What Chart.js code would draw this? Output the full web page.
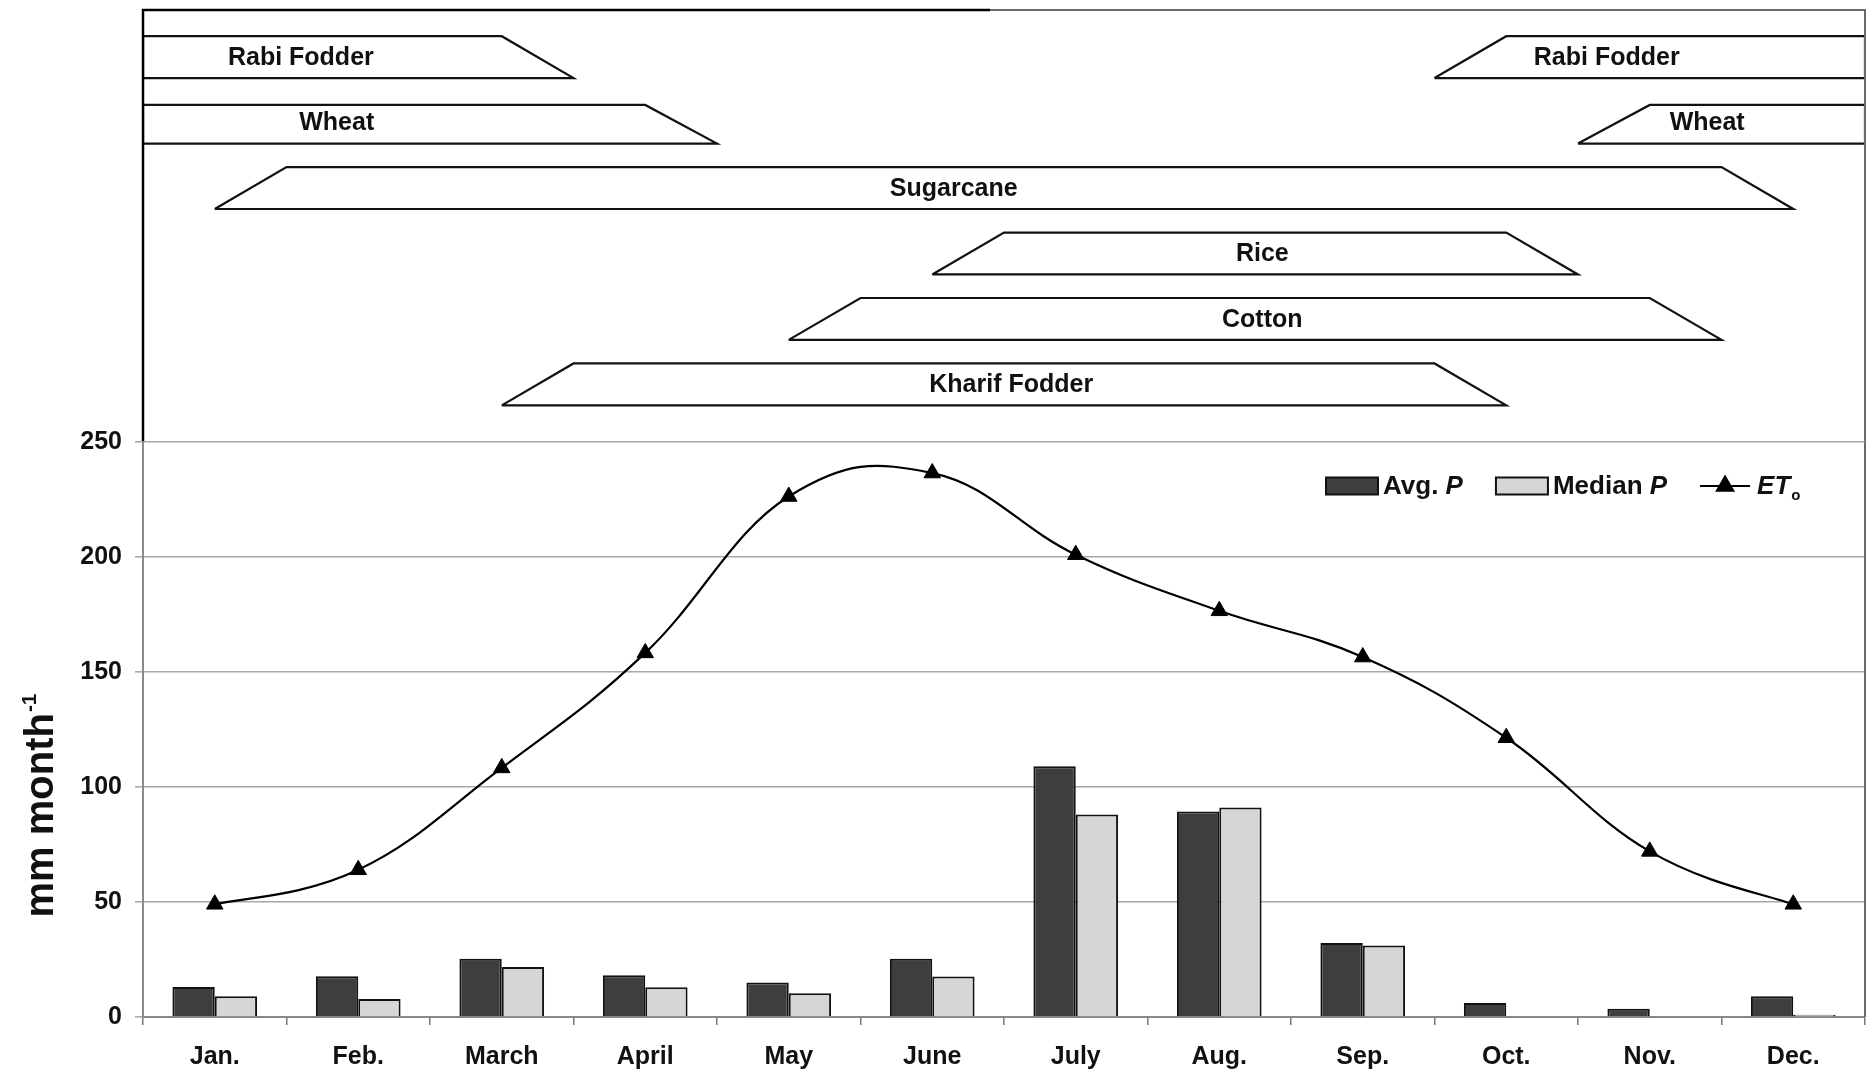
<!DOCTYPE html>
<html>
<head>
<meta charset="utf-8">
<script src="https://cdn.jsdelivr.net/npm/chart.js@4/dist/chart.umd.min.js"></script>
<style>
  html, body { margin: 0; padding: 0; background: #fff; }
  #wrap { position: relative; width: 1867px; height: 1070px; }
  #wrap canvas { position: absolute; left: 0; top: 0; }
</style>
</head>
<body>
<div id="wrap">
  <canvas id="crops" width="1867" height="1070"></canvas>
  <canvas id="clim" width="1867" height="1070"></canvas>
</div>
<script>
/* Monthly rainfall (avg / median) and reference ET, with the crop calendar on top.
   Two stacked charts share the same x extent: the calendar uses a linear month axis
   (0 = start of Jan, 12 = end of Dec), the lower chart a category axis. */

// ---- lower chart data (mm per month)
const MONTHS   = ["Jan.", "Feb.", "March", "April", "May", "June", "July", "Aug.", "Sep.", "Oct.", "Nov.", "Dec."];
const AVG_P    = [13, 17.7, 25.3, 18.1, 15, 25.3, 109, 89.4, 32.2, 6.1, 3.6, 9];
const MEDIAN_P = [9, 7.8, 21.7, 12.9, 10.3, 17.6, 88, 91.1, 31.1, 0, 0, 1];
const ET0      = [49, 64, 108.3, 158.3, 226.3, 236.5, 201, 176.6, 156.5, 121.4, 72, 49];

// ---- crop calendar (months from 1 Jan); a crop crossing the year end has two segments
const CROPS       = ["Rabi Fodder", "Wheat", "Sugarcane", "Rice", "Cotton", "Kharif Fodder"];
const SEG_CROP    = [0, 0, 1, 1, 2, 3, 4, 5];
const SEG_SOW     = [0, 9, 0, 10, 0.5, 5.5, 4.5, 2.5];
const SEG_FULL    = [0, 9.5, 0, 10.5, 1, 6, 5, 3];
const SEG_DECLINE = [2.5, 12, 3.5, 12, 11, 9.5, 10.5, 9];
const SEG_HARVEST = [3, 12, 4, 12, 11.5, 10, 11, 9.5];
const SEG_LABEL_X = [1.1, 10.2, 1.35, 10.9, 5.65, 7.8, 7.8, 6.05];

const FONT = "'Liberation Sans', Arial, Helvetica, sans-serif";
const INK = "#111";
const AVG_FILL = "#3e3e3e", MED_FILL = "#d6d6d6";
const ROW_H = 0.64; // bar thickness in row units

Chart.defaults.font.family = FONT;
Chart.defaults.color = INK;

// ---------------------------------------------------------------- crop calendar
const cropSets = SEG_CROP.map((c, i) => {
  const top = c + (c === 1 ? 0.05 : 0), bot = c + ROW_H;
  return {
    label: CROPS[c],
    data: [
      { x: SEG_SOW[i], y: bot }, { x: SEG_FULL[i], y: top },
      { x: SEG_DECLINE[i], y: top }, { x: SEG_HARVEST[i], y: bot },
      { x: SEG_SOW[i], y: bot },
    ],
    borderColor: INK, borderWidth: 2.2, backgroundColor: "#fff",
    pointRadius: 0, tension: 0, fill: false,
  };
});

const cropDecor = {
  id: "cropDecor",
  afterDatasetsDraw(chart) {
    const { ctx, chartArea: a, scales: { x, y } } = chart;
    ctx.save();
    // panel frame (top/left/right; bottom is the 250 gridline of the lower chart)
    ctx.lineWidth = 2.5;
    ctx.strokeStyle = "#000";
    ctx.beginPath(); ctx.moveTo(a.left, a.bottom); ctx.lineTo(a.left, a.top); ctx.lineTo(990, a.top); ctx.stroke();
    ctx.strokeStyle = "#6a6a6a"; ctx.lineWidth = 2;
    ctx.beginPath(); ctx.moveTo(990, a.top); ctx.lineTo(a.right, a.top); ctx.lineTo(a.right, a.bottom); ctx.stroke();
    // crop names
    ctx.fillStyle = INK;
    ctx.font = "bold 25px " + FONT;
    ctx.textAlign = "center";
    ctx.textBaseline = "middle";
    SEG_CROP.forEach((c, i) => {
      ctx.fillText(CROPS[c], x.getPixelForValue(SEG_LABEL_X[i]), y.getPixelForValue(c + ROW_H / 2) + 1);
    });
    ctx.restore();
  },
};

new Chart(document.getElementById("crops"), {
  type: "line",
  data: { datasets: cropSets },
  options: {
    responsive: false, animation: false, devicePixelRatio: 1, events: [],
    layout: { autoPadding: false, padding: { left: 143, right: 2, top: 10, bottom: 628 } },
    plugins: { legend: { display: false }, tooltip: { enabled: false } },
    scales: {
      x: { type: "linear", min: 0, max: 12, display: false },
      y: { type: "linear", min: -0.4, max: 6.2, reverse: true, display: false },
    },
  },
  plugins: [cropDecor],
});

// ---------------------------------------------------------------- rainfall / ET chart
// spreadsheet-style smoothing: uniform Catmull-Rom handles on the ET curve
const etSmooth = {
  id: "etSmooth",
  beforeDatasetDraw(chart, args) {
    const meta = args.meta;
    if (meta.type !== "line") return;
    meta.dataset.updateControlPoints(chart.chartArea, meta.indexAxis);
    const k = 0.2, pts = meta.data;
    pts.forEach((p, i) => {
      const prev = pts[i - 1] || p, next = pts[i + 1] || p;
      const dx = next.x - prev.x, dy = next.y - prev.y;
      p.cp1x = p.x - k * dx; p.cp1y = p.y - k * dy;
      p.cp2x = p.x + k * dx; p.cp2y = p.y + k * dy;
    });
  },
};

const climDecor = {
  id: "climDecor",
  afterDraw(chart) {
    const { ctx, chartArea: a } = chart;
    ctx.save();
    // right frame
    ctx.strokeStyle = "#6a6a6a"; ctx.lineWidth = 2;
    ctx.beginPath(); ctx.moveTo(a.right, a.top); ctx.lineTo(a.right, a.bottom); ctx.stroke();

    // y title: mm month^-1
    ctx.translate(53, 806);
    ctx.rotate(-Math.PI / 2);
    ctx.fillStyle = INK;
    ctx.textBaseline = "alphabetic";
    ctx.textAlign = "left";
    const main = "mm month", sup = "-1";
    ctx.font = "bold 40px " + FONT;
    const wMain = ctx.measureText(main).width;
    ctx.font = "bold 21px " + FONT;
    const wSup = ctx.measureText(sup).width;
    const x0 = -(wMain + wSup) / 2;
    ctx.font = "bold 40px " + FONT;
    ctx.fillText(main, x0, 0);
    ctx.font = "bold 21px " + FONT;
    ctx.fillText(sup, x0 + wMain + 1, -17);
    ctx.restore();

    // legend
    ctx.save();
    const ds = chart.data.datasets;
    let lx = a.right - 539;
    const ly = a.top + 44;
    ctx.textBaseline = "middle";
    ctx.textAlign = "left";
    const text = (parts) => {
      parts.forEach(([t, f]) => { ctx.font = f; ctx.fillStyle = INK; ctx.fillText(t, lx, ly + 1); lx += ctx.measureText(t).width; });
    };
    const B = "bold 26px " + FONT, BI = "italic bold 26px " + FONT;
    [ds[1], ds[2]].forEach((d, i) => {
      ctx.fillStyle = d.backgroundColor; ctx.strokeStyle = d.borderColor; ctx.lineWidth = 2;
      ctx.fillRect(lx, ly - 8.5, 52, 17); ctx.strokeRect(lx, ly - 8.5, 52, 17);
      lx += 57;
      text(i === 0 ? [["Avg. ", B], ["P", BI]] : [["Median ", B], ["P", BI]]);
      lx += 33;
    });
    ctx.strokeStyle = "#000"; ctx.lineWidth = 2;
    ctx.beginPath(); ctx.moveTo(lx, ly); ctx.lineTo(lx + 50, ly); ctx.stroke();
    ctx.fillStyle = "#000";
    Chart.helpers.drawPoint(ctx, { pointStyle: "triangle", radius: 9.5, borderWidth: 1 }, lx + 25, ly);
    lx += 57;
    text([["ET", BI]]);
    ctx.font = "bold 15px " + FONT;
    ctx.fillText("o", lx + 1, ly + 10);
    ctx.restore();
  },
};

new Chart(document.getElementById("clim"), {
  type: "bar",
  data: {
    labels: MONTHS,
    datasets: [
      { type: "line", label: "ETo", data: ET0, order: 0,
        borderColor: "#000", borderWidth: 2.2, tension: 0.4,
        pointStyle: "triangle", pointRadius: 9.5, pointBorderWidth: 1,
        pointBackgroundColor: "#000", pointBorderColor: "#000" },
      { label: "Avg. P", data: AVG_P, order: 1,
        backgroundColor: AVG_FILL, borderColor: INK, borderWidth: 2,
        categoryPercentage: 0.59, barPercentage: 1 },
      { label: "Median P", data: MEDIAN_P, order: 1,
        backgroundColor: MED_FILL, borderColor: INK, borderWidth: 2,
        categoryPercentage: 0.59, barPercentage: 1 },
    ],
  },
  options: {
    responsive: false, animation: false, devicePixelRatio: 1, events: [],
    layout: { autoPadding: false, padding: { left: 0, right: 2, top: 442, bottom: 0 } },
    plugins: { legend: { display: false }, tooltip: { enabled: false } },
    scales: {
      x: {
        grid: { offset: true, drawOnChartArea: false, tickLength: 8, color: "#777", lineWidth: 1.5 },
        border: { color: "#8a8a8a", width: 2 },
        ticks: { font: { size: 25, weight: "bold" }, color: INK, padding: 17 },
        afterFit(s) { s.height = 53; },
      },
      y: {
        min: 0, max: 250,
        ticks: { stepSize: 50, font: { size: 25, weight: "bold" }, color: INK, padding: 13 },
        grid: { color: "#a8a8a8", lineWidth: 1.6, tickLength: 8 },
        border: { color: "#8a8a8a", width: 2 },
        afterFit(s) { s.width = 143; },
      },
    },
  },
  plugins: [etSmooth, climDecor],
});
</script>
</body>
</html>
